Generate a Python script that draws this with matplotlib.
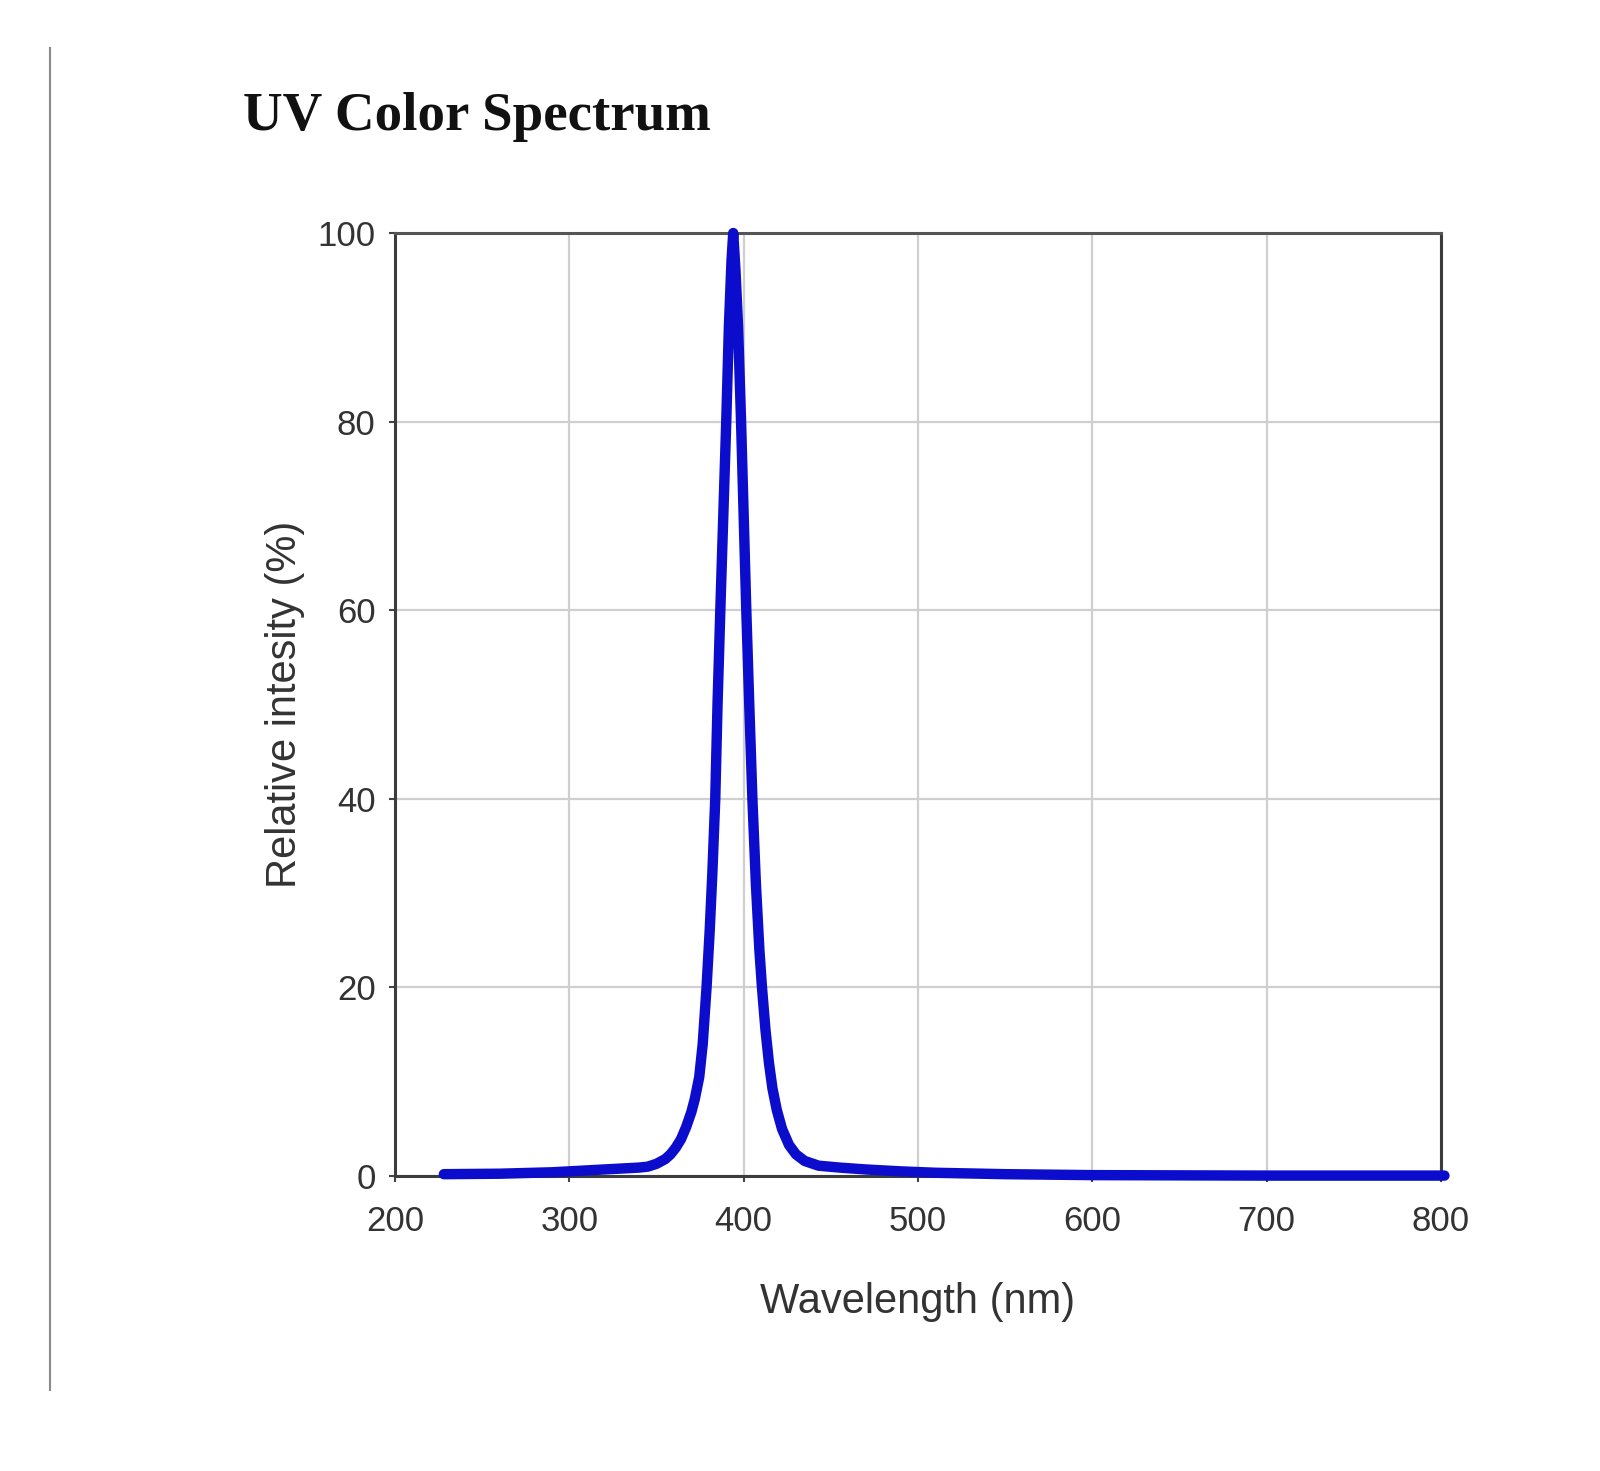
import matplotlib
matplotlib.use("Agg")
import matplotlib.pyplot as plt
from matplotlib import font_manager
from matplotlib.lines import Line2D

# spectrum (nm, %)
wavelength = [228, 260, 290, 310, 330, 340, 345, 350, 355, 358, 361, 364, 367,
              370, 372, 374.5, 376.5, 378.7, 380.5, 382, 383.7, 385, 386.6,
              388.3, 390, 391.5, 393, 394, 395.3, 396.8, 398.5, 400, 401.5,
              403.2, 405, 407, 409, 410.5, 412.5, 414.5, 416.5, 419, 422, 426,
              430, 435, 443, 455, 470, 490, 510, 550, 600, 700, 802]
intensity = [0.2, 0.25, 0.4, 0.6, 0.8, 0.9, 1.0, 1.3, 1.8, 2.3, 3.0, 3.9, 5.2,
             6.8, 8.2, 10.5, 14, 20, 26, 32, 40, 50, 60,
             70, 80, 90, 97, 100, 96, 90, 80, 70, 60,
             50, 40, 31, 24, 20, 15.5, 12, 9.3, 7.0, 5.0, 3.3,
             2.3, 1.6, 1.1, 0.9, 0.7, 0.5, 0.35, 0.2, 0.1, 0.05, 0.05]

x_ticks = [200, 300, 400, 500, 600, 700, 800]
y_ticks = [0, 20, 40, 60, 80, 100]

names = {f.name for f in font_manager.fontManager.ttflist}
narrow = "Liberation Sans Narrow" if "Liberation Sans Narrow" in names else "Liberation Sans"

fig = plt.figure(figsize=(16, 14.71), dpi=100)
ax = fig.add_axes([0.2469, 0.2005, 0.6537, 0.6411])

ax.plot(wavelength, intensity, color="#0c0cCC", linewidth=7.5,
        solid_capstyle="round", solid_joinstyle="round", clip_on=False, zorder=3)

ax.set_xlim(200, 800)
ax.set_ylim(0, 100)
ax.set_xticks(x_ticks)
ax.set_yticks(y_ticks)
ax.grid(True, color="#cfcfcf", linewidth=1.6)
ax.set_axisbelow(True)

for side, sp in ax.spines.items():
    sp.set_color("#3c3c3c")
    sp.set_linewidth(2.2)
ax.spines["top"].set_color("#555555")

ax.tick_params(direction="out", length=4, width=1.5, color="#444444",
               labelcolor="#333333", labelsize=25)
ax.tick_params(axis="x", pad=17)
ax.tick_params(axis="y", pad=10)
for lab in ax.get_xticklabels() + ax.get_yticklabels():
    lab.set_fontfamily(narrow)

ax.set_xlabel("Wavelength (nm)", fontsize=30, family=narrow, color="#333333")
ax.xaxis.set_label_coords(0.5, -0.112)
ax.set_ylabel("Relative intesity (%)", fontsize=30, family="Liberation Sans",
              color="#333333")
ax.yaxis.set_label_coords(-0.086, 0.5)

fig.text(0.152, 0.9116, "UV Color Spectrum", fontsize=39.5, family="Liberation Serif",
         fontweight="bold", color="#111111", ha="left", va="baseline")

# thin page border on the left
fig.add_artist(Line2D([50 / 1600, 50 / 1600], [1 - 48 / 1471, 1 - 1390 / 1471],
                      color="#8a8a8a", linewidth=1.5))

fig.savefig("out.png", dpi=100, facecolor="white")
